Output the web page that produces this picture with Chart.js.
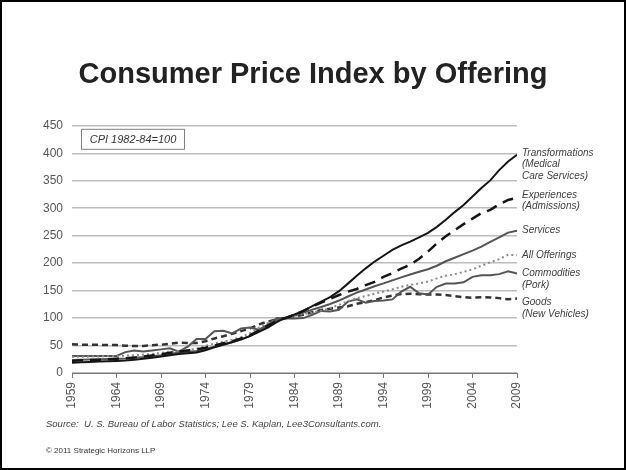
<!DOCTYPE html>
<html>
<head>
<meta charset="utf-8">
<script src="https://cdn.jsdelivr.net/npm/chart.js@4.4.1/dist/chart.umd.min.js"></script>
<style>
html,body{margin:0;padding:0;background:#fff;}
#wrap{width:626px;height:470px;position:relative;}
</style>
</head>
<body>
<div id="wrap"><canvas id="chartCPI"></canvas></div>
<script>
// CPI 1982-84=100, annual
var years = [1959,1960,1961,1962,1963,1964,1965,1966,1967,1968,
  1969,1970,1971,1972,1973,1974,1975,1976,1977,1978,
  1979,1980,1981,1982,1983,1984,1985,1986,1987,1988,
  1989,1990,1991,1992,1993,1994,1995,1996,1997,1998,
  1999,2000,2001,2002,2003,2004,2005,2006,2007,2008,2009];

var medicalServices = [18.7,19.5,20.2,20.9,21.5,22.0,22.7,23.9,26.0,27.9,
  30.2,32.3,34.7,35.9,37.5,41.4,46.6,51.3,56.4,61.2,
  67.2,74.8,82.8,92.6,100.7,106.7,113.2,121.9,130.0,138.3,
  148.9,162.7,177.1,190.5,202.9,213.4,224.2,232.4,239.1,246.8,
  255.1,266.0,278.8,292.9,306.0,321.3,336.7,350.6,369.3,384.9,397.3];

var admissions = [22,23,23.5,24,25,26,27,28,30,32,
  34,37,39,41,43,46,50,54,58,63,
  69,77,86,95,100,106,113,121,128,135,
  142,148,153,160,166,175,182,190,197,208,
  221,236,249,260,271,281,291,297,307,315,319];

var services = [23.5,24.1,24.5,25.0,25.5,26.0,26.6,27.6,28.8,30.3,
  32.4,35.0,37.0,38.4,40.1,43.8,48.0,52.0,56.0,60.8,
  67.5,77.9,88.1,96.0,99.4,104.6,109.9,115.4,120.2,125.7,
  131.9,139.2,146.3,152.0,157.9,163.1,168.7,174.1,179.4,184.2,
  188.8,195.3,203.4,209.8,216.5,222.8,230.1,238.9,246.8,255.5,259.2];

var allItems = [29.1,29.6,29.9,30.2,30.6,31.0,31.5,32.4,33.4,34.8,
  36.7,38.8,40.5,41.8,44.4,49.3,53.8,56.9,60.6,65.2,
  72.6,82.4,90.9,96.5,99.6,103.9,107.6,109.6,113.6,118.3,
  124.0,130.7,136.2,140.3,144.5,148.2,152.4,156.9,160.5,163.0,
  166.6,172.2,177.1,179.9,184.0,188.9,195.3,201.6,207.3,215.3,214.5];

var pork = [31,31,31,31,31,31,38,41,39,41,
  43,45,39,48,62,62,76,77,72,81,
  83,79,86,100,99,99,100,106,113,112,
  115,130,134,128,131,132,134,148,157,145,
  143,157,163,163,165,175,178,178,180,185,181];

var newVehicles = [52.2,51.6,51.5,51.3,51.0,50.9,49.7,49.0,49.3,50.7,
  51.5,53.1,55.3,54.8,54.8,57.9,62.9,66.9,71.5,76.2,
  81.2,88.4,93.7,97.4,99.9,102.8,106.1,110.6,114.6,116.9,
  119.2,121.4,126.0,129.2,132.7,137.6,141.0,143.7,144.3,143.4,
  142.9,142.8,142.1,140.0,137.9,137.1,137.9,137.6,136.3,134.2,135.6];

var seriesNames = [
  ['Transformations', '(Medical', 'Care Services)'],
  ['Experiences', '(Admissions)'],
  ['Services'],
  ['All Offerings'],
  ['Commodities', '(Pork)'],
  ['Goods', '(New Vehicles)']
];

var FONT = "'Liberation Sans', Arial, sans-serif";

function pts(vals){
  return vals.map(function(v, i){ return {x: years[i], y: v}; });
}

var extras = {
  id: 'extras',
  afterDraw: function(chart){
    var ctx = chart.ctx, area = chart.chartArea;
    ctx.save();
    // labels at line ends
    var offs = [-2, -3, 0, 0, 0, 4];
    ctx.font = 'italic 10px ' + FONT;
    ctx.fillStyle = '#404040';
    ctx.textAlign = 'left';
    ctx.textBaseline = 'middle';
    chart.data.datasets.forEach(function(ds, i){
      var meta = chart.getDatasetMeta(i);
      var last = meta.data[meta.data.length - 1];
      seriesNames[i].forEach(function(t, k){
        ctx.fillText(t, last.x + 5, last.y + offs[i] + k * 11.5);
      });
    });
    // note box
    ctx.font = 'italic 11px ' + FONT;
    var bx = area.left + 9, by = area.top + 3;
    ctx.strokeStyle = '#808080';
    ctx.lineWidth = 1;
    ctx.strokeRect(bx + 0.5, by + 0.5, 103, 20);
    ctx.fillStyle = '#333';
    ctx.textAlign = 'center';
    ctx.fillText('CPI 1982-84=100', bx + 52, by + 11);
    // footer
    ctx.textAlign = 'left';
    ctx.fillStyle = '#444';
    ctx.font = 'italic 9.5px ' + FONT;
    ctx.fillText('Source:  U. S. Bureau of Labor Statistics; Lee S. Kaplan, Lee3Consultants.com.', 46, 424);
    ctx.font = "8px 'Liberation Sans Narrow', " + FONT;
    ctx.fillStyle = '#333';
    ctx.fillText('\u00A9 2011 Strategic Horizons LLP', 46, 451);
    // frame
    ctx.strokeStyle = '#000';
    ctx.lineWidth = 2;
    ctx.strokeRect(1, 1, chart.width - 2, chart.height - 2);
    ctx.restore();
  }
};

new Chart(document.getElementById('chartCPI'), {
  type: 'line',
  data: {
    datasets: [
      {data: pts(medicalServices), borderColor: '#151515', borderWidth: 2},
      {data: pts(admissions), borderColor: '#151515', borderWidth: 2.5, borderDash: [11, 7]},
      {data: pts(services), borderColor: '#555', borderWidth: 2},
      {data: pts(allItems), borderColor: '#8a8a8a', borderWidth: 2, borderDash: [2, 3]},
      {data: pts(pork), borderColor: '#555', borderWidth: 2},
      {data: pts(newVehicles), borderColor: '#333', borderWidth: 2.5, borderDash: [6, 4]}
    ]
  },
  options: {
    responsive: true,
    maintainAspectRatio: false,
    animation: false,
    devicePixelRatio: 1,
    elements: {point: {radius: 0}, line: {tension: 0}},
    layout: {padding: 0},
    plugins: {
      legend: {display: false},
      tooltip: {enabled: false},
      title: {
        display: true,
        text: 'Consumer Price Index by Offering',
        color: '#222',
        font: {size: 29, weight: 'bold', family: FONT},
        padding: {top: 58, bottom: 33}
      }
    },
    scales: {
      x: {
        type: 'linear',
        min: 1959,
        max: 2009,
        afterFit: function(s){ s.height = 97; },
        ticks: {
          stepSize: 5,
          autoSkip: false,
          maxRotation: 90,
          minRotation: 90,
          padding: 4,
          color: '#555',
          font: {size: 12, family: FONT},
          callback: function(v){ return String(v); }
        },
        grid: {drawOnChartArea: false, drawTicks: true, tickLength: 5, color: '#777'},
        border: {color: '#777', width: 1}
      },
      y: {
        min: 0,
        max: 450,
        afterFit: function(s){ s.width = 72; },
        ticks: {stepSize: 50, padding: 9, color: '#555', font: {size: 12, family: FONT}},
        grid: {color: '#bdbdbd', lineWidth: 1.5, drawTicks: false},
        border: {display: false}
      },
      yRight: {
        position: 'right',
        afterFit: function(s){ s.width = 109; },
        ticks: {display: false},
        grid: {display: false},
        border: {display: false}
      }
    }
  },
  plugins: [extras]
});
</script>
</body>
</html>
